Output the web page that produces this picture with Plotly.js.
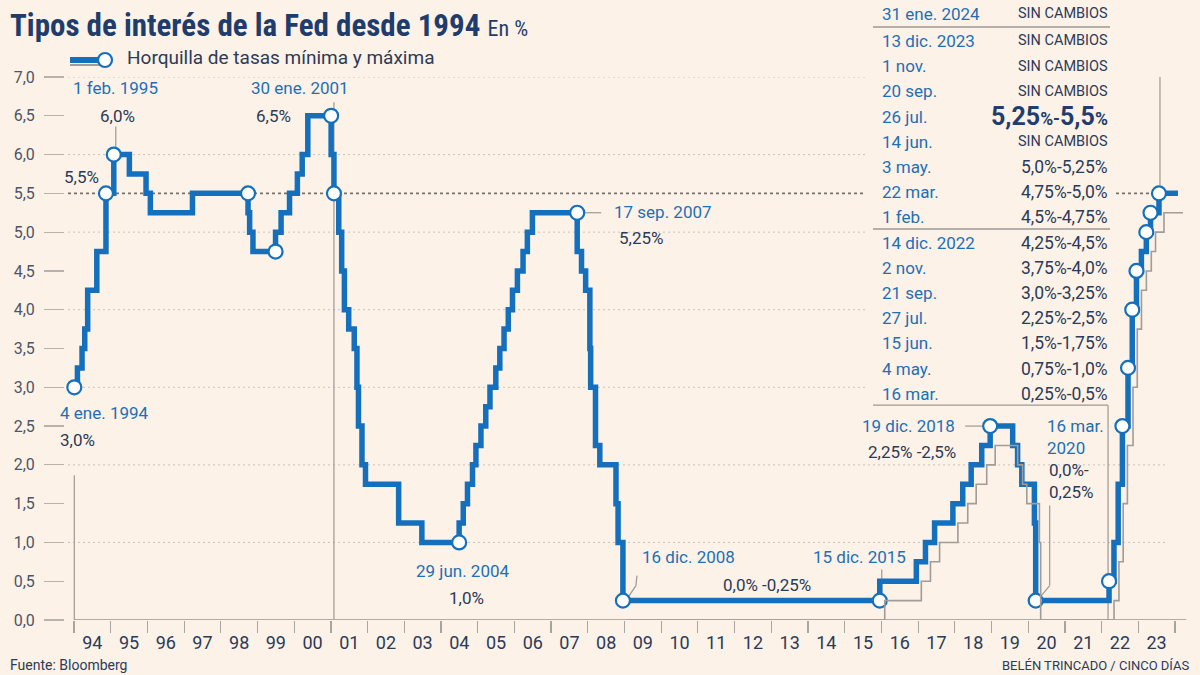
<!DOCTYPE html>
<html>
<head>
<meta charset="utf-8">
<script src="https://cdn.plot.ly/plotly-3.0.1.min.js"></script>
<style>
html,body{margin:0;padding:0;background:#fcf2e8;}
#chart{width:1200px;height:675px;}
</style>
</head>
<body>
<div id="chart"></div>
<script>
// ---------------- DATA ----------------
// Upper bound of the Fed funds target (single target before Dec 2008)
const upperDates = ['1994-01-04','1994-02-04','1994-03-22','1994-04-18','1994-05-17','1994-08-16','1994-11-15',
'1995-02-01','1995-07-06','1995-12-19','1996-01-31','1997-03-25','1998-09-29','1998-10-15','1998-11-17',
'1999-06-30','1999-08-24','1999-11-16','2000-02-02','2000-03-21','2000-05-16',
'2001-01-03','2001-01-31','2001-03-20','2001-04-18','2001-05-15','2001-06-27','2001-08-21','2001-09-17','2001-10-02','2001-11-06','2001-12-11',
'2002-11-06','2003-06-25',
'2004-06-30','2004-08-10','2004-09-21','2004-11-10','2004-12-14',
'2005-02-02','2005-03-22','2005-05-03','2005-06-30','2005-08-09','2005-09-20','2005-11-01','2005-12-13',
'2006-01-31','2006-03-28','2006-05-10','2006-06-29',
'2007-09-18','2007-10-31','2007-12-11',
'2008-01-22','2008-01-30','2008-03-18','2008-04-30','2008-10-08','2008-10-29','2008-12-16',
'2015-12-16','2016-12-14','2017-03-15','2017-06-14','2017-12-13',
'2018-03-21','2018-06-13','2018-09-26','2018-12-19',
'2019-07-31','2019-09-18','2019-10-30',
'2020-03-03','2020-03-16',
'2022-03-16','2022-05-04','2022-06-15','2022-07-27','2022-09-21','2022-11-02','2022-12-14',
'2023-02-01','2023-03-22','2023-05-03','2023-07-26','2024-01-31'];
const upperValues = [3.0,3.25,3.5,3.75,4.25,4.75,5.5,
6.0,5.75,5.5,5.25,5.5,5.25,5.0,4.75,
5.0,5.25,5.5,5.75,6.0,6.5,
6.0,5.5,5.0,4.5,4.0,3.75,3.5,3.0,2.5,2.0,1.75,
1.25,1.0,
1.25,1.5,1.75,2.0,2.25,
2.5,2.75,3.0,3.25,3.5,3.75,4.0,4.25,
4.5,4.75,5.0,5.25,
4.75,4.5,4.25,
3.5,3.0,2.25,2.0,1.5,1.0,0.25,
0.5,0.75,1.0,1.25,1.5,
1.75,2.0,2.25,2.5,
2.25,2.0,1.75,
1.25,0.25,
0.5,1.0,1.75,2.5,3.25,4.0,4.5,
4.75,5.0,5.25,5.5,5.5];

// Lower bound of the range (from Dec 2008)
const lowerDates = ['2008-12-16','2015-12-16','2016-12-14','2017-03-15','2017-06-14','2017-12-13','2018-03-21','2018-06-13','2018-09-26','2018-12-19',
'2019-07-31','2019-09-18','2019-10-30','2020-03-03','2020-03-16','2022-03-16','2022-05-04','2022-06-15','2022-07-27','2022-09-21',
'2022-11-02','2022-12-14','2023-02-01','2023-03-22','2023-05-03','2023-07-26','2024-01-31'];
const lowerValues = [0,0.25,0.5,0.75,1.0,1.25,1.5,1.75,2.0,2.25,
2.0,1.75,1.5,1.0,0,0.25,0.75,1.5,2.25,3.0,
3.75,4.25,4.5,4.75,5.0,5.25,5.25];

// Highlighted points (circles)
const markerDates = ['1994-01-04','1994-11-15','1995-02-01','1998-09-29','1999-06-30','2001-01-03','2001-01-31','2004-06-30','2007-09-18',
'2008-12-16','2015-12-16','2018-12-19','2020-03-16','2022-03-16','2022-07-27','2022-09-21','2022-11-02','2022-12-14','2023-03-22','2023-05-03','2023-07-26'];
const markerValues = [3.0,5.5,6.0,5.5,4.75,6.5,5.5,1.0,5.25,
0.25,0.25,2.5,0.25,0.5,2.5,3.25,4.0,4.5,5.0,5.25,5.5];

// Axis ticks
const yTickValues = [0,0.5,1,1.5,2,2.5,3,3.5,4,4.5,5,5.5,6,6.5,7];
const yTickLabels = ['0,0','0,5','1,0','1,5','2,0','2,5','3,0','3,5','4,0','4,5','5,0','5,5','6,0','6,5','7,0'];
const gridValues = [1,2,3,4,5,6,7];
const referenceLevel = 5.5;

// Event labels
const eventDates = ['1994-01-04','1994-11-15','1995-02-01','2001-01-03','2004-06-30','2007-09-18','2008-12-16','2015-12-16','2018-12-19','2020-03-16'];
const eventDateLabels = ['4 ene. 1994','','1 feb. 1995','30 ene. 2001','29 jun. 2004','17 sep. 2007','16 dic. 2008','15 dic. 2015','19 dic. 2018','16 mar.<br>2020'];
const eventValueLabels = ['3,0%','5,5%','6,0%','6,5%','1,0%','5,25%','0,0% -0,25%','','2,25% -2,5%','0,0%-<br>0,25%'];

// Table of recent decisions
const tableDates = ['31 ene. 2024','13 dic. 2023','1 nov.','20 sep.','26 jul.','14 jun.','3 may.','22 mar.','1 feb.','14 dic. 2022','2 nov.','21 sep.','27 jul.','15 jun.','4 may.','16 mar.'];
const tableRanges = ['SIN CAMBIOS','SIN CAMBIOS','SIN CAMBIOS','SIN CAMBIOS','5,25%-5,5%','SIN CAMBIOS','5,0%-5,25%','4,75%-5,0%','4,5%-4,75%','4,25%-4,5%','3,75%-4,0%','3,0%-3,25%','2,25%-2,5%','1,5%-1,75%','0,75%-1,0%','0,25%-0,5%'];
const highlightRow = 4;

const titleText = 'Tipos de interés de la Fed desde 1994';
const titleUnit = 'En %';
const legendText = 'Horquilla de tasas mínima y máxima';
const sourceText = 'Fuente: Bloomberg';
const creditText = 'BELÉN TRINCADO / CINCO DÍAS';

// ---------------- STYLE / LAYOUT ----------------
const BG = '#fcf2e8';
const BLUE = '#1470bd';
const LBLUE = '#1f6fb5';
const NAVY = '#2b3b58';
const GRAY = '#9d9893';
const FONT = 'Roboto, "Open Sans", sans-serif';

const PLOT = {l: 65, r: 1184, t: 77, b: 620};
const PX_PER_YEAR = 36.7;
const ORIGIN_PX = 74;
const DAY = 864e5;
const originMs = Date.UTC(1994, 0, 1);
const pxToMs = p => originMs + (p - ORIGIN_PX) / PX_PER_YEAR * 365.25 * DAY;
const iso = ms => new Date(ms).toISOString().slice(0, 19).replace('T', ' ');
const shiftMs = 5 / PX_PER_YEAR * 365.25 * DAY;
const xRange = [iso(pxToMs(PLOT.l)), iso(pxToMs(PLOT.r))];
const x2Range = [iso(pxToMs(PLOT.l) - shiftMs), iso(pxToMs(PLOT.r) - shiftMs)];
const px = v => (v - PLOT.l) / (PLOT.r - PLOT.l);
const py = v => (PLOT.b - v) / (PLOT.b - PLOT.t);
const valToPy = v => PLOT.b - v / 7 * (PLOT.b - PLOT.t);

const markerValue = d => markerValues[markerDates.indexOf(d)];

// ---------------- TRACES ----------------
const traces = [
  {x: lowerDates, y: lowerValues, xaxis: 'x2', yaxis: 'y', type: 'scatter', mode: 'lines',
   line: {shape: 'hv', color: '#a19c97', width: 1.6}, hoverinfo: 'skip', showlegend: false},
  {x: upperDates, y: upperValues, type: 'scatter', mode: 'lines',
   line: {shape: 'hv', color: BLUE, width: 5.5}, hoverinfo: 'skip', showlegend: false},
  {x: markerDates, y: markerValues, type: 'scatter', mode: 'markers', cliponaxis: false,
   marker: {size: 14, color: '#ffffff', line: {color: BLUE, width: 2.2}}, hoverinfo: 'skip', showlegend: false}
];

// ---------------- SHAPES ----------------
const shapes = [];
gridValues.forEach(v => {
  const yp = valToPy(v);
  shapes.push({type: 'line', layer: 'below', xref: 'paper', yref: 'y', x0: px(PLOT.l + 3), x1: px(yp < 405 ? 865 : 1165),
    y0: v, y1: v, line: {color: '#cbc3ba', width: 1, dash: '2px,3px'}});
});
shapes.push({type: 'line', layer: 'below', xref: 'paper', yref: 'y', x0: px(PLOT.l + 3), x1: px(865),
  y0: referenceLevel, y1: referenceLevel, line: {color: '#77716c', width: 1.8, dash: 'dot'}});
shapes.push({type: 'line', layer: 'below', xref: 'paper', yref: 'y', x0: px(1116), x1: px(1152),
  y0: referenceLevel, y1: referenceLevel, line: {color: '#77716c', width: 1.8, dash: 'dot'}});
// x axis baseline from the start of 1994
shapes.push({type: 'line', layer: 'below', xref: 'paper', yref: 'y', x0: px(ORIGIN_PX), x1: 1.002,
  y0: 0, y1: 0, line: {color: '#9a958f', width: 1.5}});

function leader(date, value, x0, y0, x1, y1) {
  return {type: 'line', layer: 'below', xref: 'x', yref: 'y', xsizemode: 'pixel', ysizemode: 'pixel',
    xanchor: date, yanchor: value, x0: x0, y0: y0, x1: x1, y1: y1, line: {color: GRAY, width: 1.2}};
}
shapes.push(leader('1994-01-04', markerValue('1994-01-04'), 0, -88, 0, -233));
shapes.push(leader('1995-02-01', markerValue('1995-02-01'), 2, 7, 2, 28));
shapes.push(leader('2001-01-31', markerValue('2001-01-31'), 0, 91, 0, -426));
shapes.push(leader('2007-09-18', markerValue('2007-09-18'), 8, 0, 24, 0));
shapes.push(leader('2008-12-16', markerValue('2008-12-16'), 5, 3, 13, 15));
shapes.push(leader('2008-12-16', markerValue('2008-12-16'), 13, 15, 14, 25));
shapes.push(leader('2015-12-16', markerValue('2015-12-16'), 2, 8, 2, 31));
shapes.push(leader('2018-12-19', markerValue('2018-12-19'), -25, 0, -8, 0));
shapes.push(leader('2020-03-16', markerValue('2020-03-16'), 4, 3, 14, 15));
shapes.push(leader('2020-03-16', markerValue('2020-03-16'), 14, 15, 14, 95));
shapes.push(leader('2022-03-16', markerValue('2022-03-16'), -1, 176, -1, -39));
shapes.push(leader('2022-03-16', markerValue('2022-03-16'), -236, 176, -1, 176));
shapes.push(leader('2023-07-26', markerValue('2023-07-26'), 1, 8, 1, 123));
shapes.push(leader('2023-07-26', markerValue('2023-07-26'), -20, 123, 1, 123));
// table separators
[27, 229].forEach(yp => shapes.push({type: 'line', xref: 'paper', yref: 'paper', x0: px(873), x1: px(1110),
  y0: py(yp), y1: py(yp), line: {color: GRAY, width: 1.3}}));
// legend icon
shapes.push({type: 'line', xref: 'paper', yref: 'paper', x0: px(70), x1: px(100), y0: py(65), y1: py(65), line: {color: '#a19c97', width: 2}});
shapes.push({type: 'line', xref: 'paper', yref: 'paper', x0: px(70), x1: px(100), y0: py(60), y1: py(60), line: {color: BLUE, width: 6}});
shapes.push({type: 'circle', xref: 'paper', yref: 'paper', x0: px(98), x1: px(112), y0: py(67), y1: py(53),
  fillcolor: '#ffffff', line: {color: BLUE, width: 2.2}});

// ---------------- ANNOTATIONS ----------------
const annotations = [];
function lab(date, text, color, size, xanchor, xshift, yshift) {
  if (!text) return;
  annotations.push({xref: 'x', yref: 'y', x: date, y: markerValue(date), text: text, showarrow: false,
    xanchor: xanchor, yanchor: 'middle', xshift: xshift, yshift: yshift, align: xanchor === 'right' ? 'right' : 'left',
    font: {family: FONT, size: size, color: color}});
}
// positions (px offsets) for each event's date label and value label
const eventStyle = [
  {da: 'left', dx: -16, dy: -26, va: 'left', vx: -16, vy: -53},
  {da: 'left', dx: 0, dy: 0, va: 'right', vx: -5, vy: 16},
  {da: 'center', dx: 2, dy: 67, va: 'center', vx: 4, vy: 39},
  {da: 'center', dx: -31, dy: 28, va: 'right', vx: -38, vy: 0},
  {da: 'center', dx: 4, dy: -29, va: 'center', vx: 7, vy: -56},
  {da: 'left', dx: 35, dy: 1, va: 'left', vx: 40, vy: -25},
  {da: 'left', dx: 17, dy: 44, va: 'center', vx: 144, vy: 16},
  {da: 'center', dx: -20, dy: 44, va: 'center', vx: 0, vy: 0},
  {da: 'right', dx: -33, dy: 0, va: 'right', vx: -32, vy: -26},
  {da: 'left', dx: 9, dy: 164, va: 'left', vx: 11, vy: 120}
];
eventDates.forEach((d, i) => {
  const s = eventStyle[i];
  lab(d, eventDateLabels[i], LBLUE, 17, s.da, s.dx, s.dy);
  lab(d, eventValueLabels[i], NAVY, 17, s.va, s.vx, s.vy);
});

// table
tableDates.forEach((d, i) => {
  const yp = i === 0 ? 14 : 41 + (i - 1) * 25.2;
  annotations.push({xref: 'paper', yref: 'paper', x: px(880), y: py(yp), text: d, showarrow: false,
    xanchor: 'left', yanchor: 'middle', font: {family: FONT, size: 17, color: LBLUE}});
  let txt = tableRanges[i];
  let size = 17.5;
  let color = NAVY;
  if (i === highlightRow) {
    txt = '<b>' + txt.replace(/([\d,]+)/g, '<span style="font-size:25px">$1</span>') + '</b>';
    color = '#1f3e6e';
  } else if (/^[A-Z ]+$/.test(txt)) {
    size = 14.5;
  }
  annotations.push({xref: 'paper', yref: 'paper', x: px(1110), y: py(yp), text: txt, showarrow: false,
    xanchor: 'right', yanchor: 'middle', font: {family: FONT, size: size, color: color}});
});

// legend text
annotations.push({xref: 'paper', yref: 'paper', x: px(125), y: py(58), text: legendText, showarrow: false,
  xanchor: 'left', yanchor: 'middle', font: {family: FONT, size: 19, color: NAVY}});
// footer
annotations.push({xref: 'paper', yref: 'paper', x: px(8), y: py(665), text: sourceText, showarrow: false,
  xanchor: 'left', yanchor: 'middle', font: {family: FONT, size: 14, color: NAVY}});
annotations.push({xref: 'paper', yref: 'paper', x: px(1191), y: py(665), text: creditText, showarrow: false,
  xanchor: 'right', yanchor: 'middle', font: {family: FONT, size: 13, color: NAVY}});

// ---------------- LAYOUT ----------------
const layout = {
  width: 1200, height: 675,
  paper_bgcolor: BG, plot_bgcolor: BG,
  margin: {l: PLOT.l, r: 1200 - PLOT.r, t: PLOT.t, b: 675 - PLOT.b, pad: 0},
  showlegend: false,
  title: {
    text: '<b>' + titleText + '</b> <span style="font-size:22px;font-weight:normal">' + titleUnit + '</span>',
    x: 10 / 1200, xanchor: 'left', xref: 'container',
    y: 1 - 25 / 675, yanchor: 'middle', yref: 'container',
    font: {family: '"Liberation Sans Narrow", "Roboto Condensed", Roboto, sans-serif', size: 31, color: '#1f3d6c'}
  },
  xaxis: {
    type: 'date', range: xRange, tick0: '1994-01-01', dtick: 'M12', tickformat: '%y', ticklabelmode: 'period',
    ticks: 'outside', ticklen: 12, tickcolor: '#aaa49e', tickwidth: 1.2, ticklabelstandoff: -6,
    showgrid: false, zeroline: false, showline: false, fixedrange: true,
    tickfont: {family: FONT, size: 18, color: NAVY}
  },
  xaxis2: {type: 'date', range: x2Range, overlaying: 'x', visible: false, fixedrange: true},
  yaxis: {
    range: [0, 7], tickmode: 'array', tickvals: yTickValues, ticktext: yTickLabels,
    ticks: 'outside', ticklen: 20, tickcolor: '#b9b2ab', tickwidth: 1.2, ticklabelstandoff: 6,
    showgrid: false, zeroline: false, showline: false, fixedrange: true,
    tickfont: {family: FONT, size: 16, color: '#4d5566'}
  },
  shapes: shapes,
  annotations: annotations
};

Plotly.newPlot('chart', traces, layout, {displayModeBar: false, staticPlot: true});
</script>
</body>
</html>
